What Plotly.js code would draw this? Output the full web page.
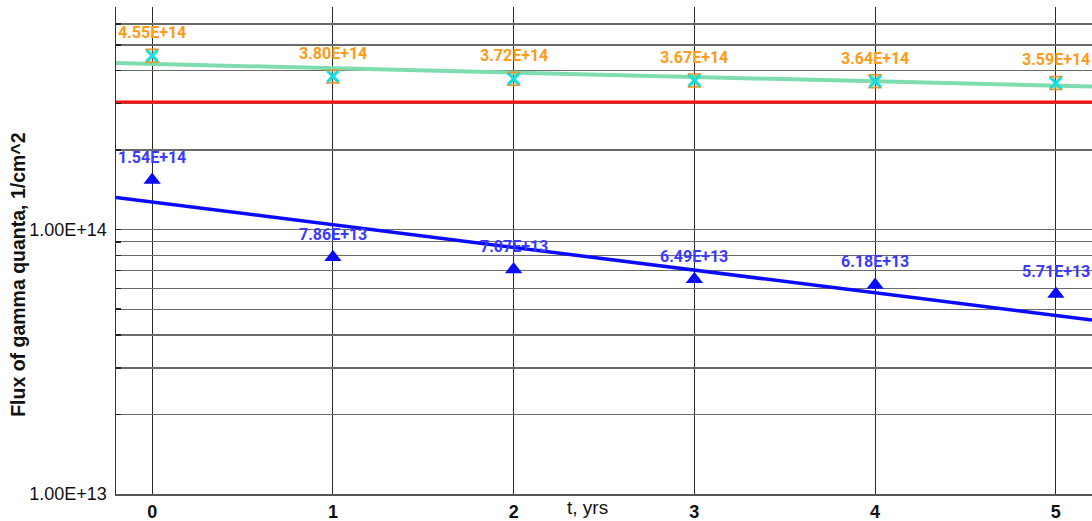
<!DOCTYPE html>
<html>
<head>
<meta charset="utf-8">
<script src="https://cdn.plot.ly/plotly-3.0.1.min.js"></script>
<style>html,body{margin:0;padding:0;background:#fff;}#chart{width:1092px;height:521px;}</style>
</head>
<body>
<div id="chart"></div>
<script>
// ---- data ----
const years = [0, 1, 2, 3, 4, 5];
const fluxA = [4.55e14, 3.80e14, 3.72e14, 3.67e14, 3.64e14, 3.59e14];
const fluxB = [1.54e14, 7.86e13, 7.07e13, 6.49e13, 6.18e13, 5.71e13];
const labelsA = ['4.55E+14', '3.80E+14', '3.72E+14', '3.67E+14', '3.64E+14', '3.59E+14'];
const labelsB = ['1.54E+14', '7.86E+13', '7.07E+13', '6.49E+13', '6.18E+13', '5.71E+13'];
const trendX = [-0.2, 5.2];
const trendA = [4.27e14, 3.48e14];
const trendB = [1.324e14, 4.55e13];
const limitY = [3.04e14, 3.04e14];
const xTicks = [0, 1, 2, 3, 4, 5];
const yGridVals = [1e13, 2e13, 3e13, 4e13, 5e13, 6e13, 7e13, 8e13, 9e13,
                   1e14, 2e14, 3e14, 4e14, 5e14, 6e14];
const yGridText = ['1.00E+13', '', '', '', '', '', '', '', '',
                   '1.00E+14', '', '', '', '', ''];
const xTitle = 't, yrs';
const yTitle = 'Flux of gamma quanta, 1/cm^2';

const orange = '#ff9a1a';
const blueText = '#3a3aff';

const traces = [
  {x: trendX, y: limitY, mode: 'lines', line: {color: '#ff1010', width: 3}, hoverinfo: 'skip'},
  {x: trendX, y: trendA, mode: 'lines', line: {color: '#7fdcae', width: 4}, hoverinfo: 'skip'},
  {x: trendX, y: trendB, mode: 'lines', line: {color: '#0a0aff', width: 3.5}, hoverinfo: 'skip'},
  {x: years, y: fluxA, mode: 'markers', marker: {symbol: 'hourglass', size: 13, color: 'rgba(230,150,46,0.35)', line: {color: '#e6952e', width: 1.5}}},
  {x: years, y: fluxA, mode: 'markers', marker: {symbol: 'x-thin', size: 11, color: '#10e0e0', line: {color: '#10e0e0', width: 3}}},
  {x: years, y: fluxB, mode: 'markers', marker: {symbol: 'triangle-up', size: 15, color: '#0a0aff'}}
];

const annotations = [];
years.forEach((x, i) => {
  annotations.push({x: x, y: Math.log10(fluxA[i]), xref: 'x', yref: 'y', text: labelsA[i], showarrow: false,
    yshift: 23, font: {family: 'Roboto', size: 16, color: orange, weight: 'bold'}});
  annotations.push({x: x, y: Math.log10(fluxB[i]), xref: 'x', yref: 'y', text: labelsB[i], showarrow: false,
    yshift: 23, font: {family: 'Roboto', size: 16, color: blueText, weight: 'bold'}});
});
annotations.push({x: 0.4836, y: -0.028, xref: 'paper', yref: 'paper', text: xTitle, showarrow: false,
  xanchor: 'center', yanchor: 'middle', font: {family: 'Liberation Sans, Arial', size: 19, color: '#111'}});
annotations.push({x: -0.1004, y: 0.45, xref: 'paper', yref: 'paper', text: '<b>' + yTitle + '</b>', showarrow: false,
  textangle: -90, xanchor: 'center', yanchor: 'middle', font: {family: 'Liberation Sans, Arial', size: 19.5, color: '#111'}});

const layout = {
  width: 1092, height: 521,
  margin: {l: 116, r: 0, t: 7, b: 27, pad: 0},
  paper_bgcolor: '#ffffff', plot_bgcolor: '#ffffff',
  showlegend: false,
  xaxis: {
    range: [-0.2, 5.2], tickvals: xTicks, ticktext: xTicks.map(v => '<b>' + v + '</b>'),
    showgrid: true, gridcolor: '#2a2a2a', gridwidth: 1,
    zeroline: false, showline: true, linecolor: '#555', linewidth: 2,
    ticks: '', tickfont: {family: 'Liberation Sans, Arial', size: 18, color: '#111'}
  },
  yaxis: {
    type: 'log', range: [13, 14.8424],
    tickvals: yGridVals, ticktext: yGridText,
    showgrid: true, gridcolor: '#6a6a6a', gridwidth: 1.3,
    zeroline: false, showline: true, linecolor: '#333', linewidth: 1.5,
    ticks: 'inside', ticklen: 5, tickcolor: '#222', tickwidth: 1.5,
    ticklabelstandoff: 4,
    tickfont: {family: 'Liberation Sans, Arial', size: 18, color: '#111'}
  },
  annotations: annotations
};

Plotly.newPlot('chart', traces, layout, {displayModeBar: false, staticPlot: true});
</script>
</body>
</html>
